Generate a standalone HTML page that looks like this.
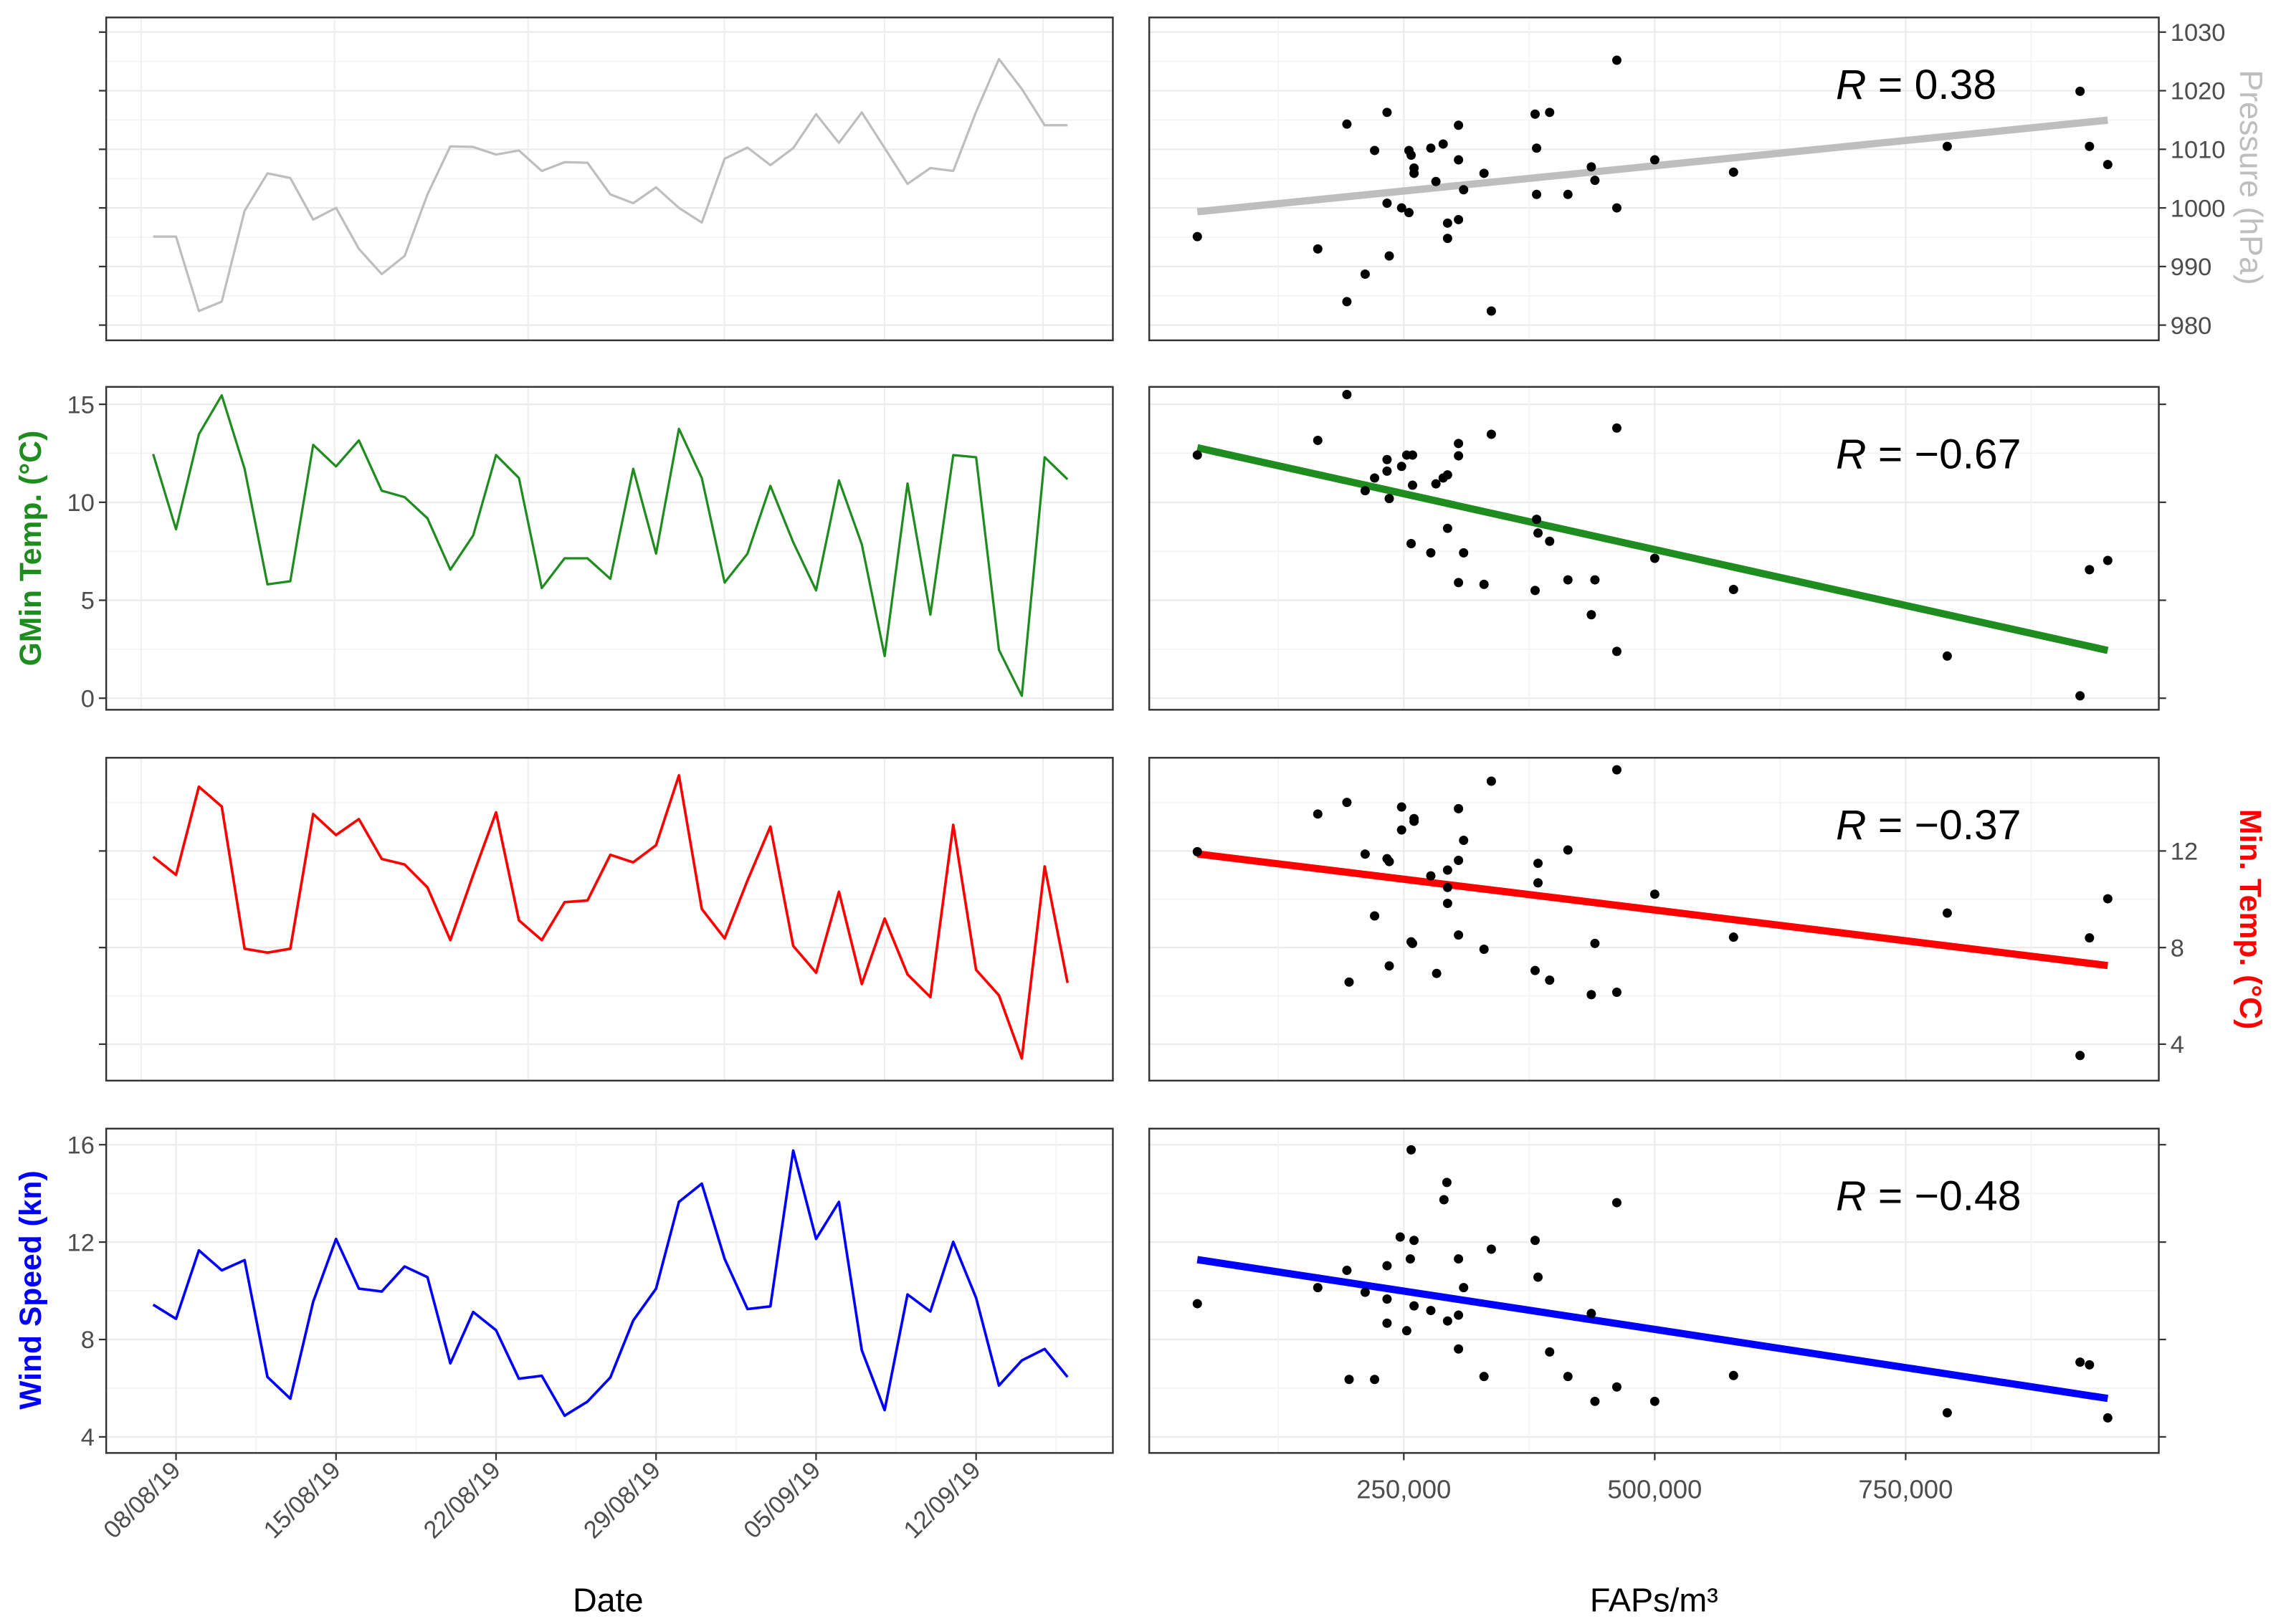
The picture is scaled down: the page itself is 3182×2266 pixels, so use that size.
<!DOCTYPE html>
<html><head><meta charset="utf-8">
<style>
html,body{margin:0;padding:0;background:#fff;}
svg{display:block;}
text{font-family:"Liberation Sans",sans-serif;}
</style></head>
<body>
<svg id="chart" xmlns="http://www.w3.org/2000/svg" width="3182" height="2266" viewBox="0 0 1568 1116.6" preserveAspectRatio="none">
<rect x="0" y="0" width="1568" height="1117" fill="#fff"/>
</svg>
<script>
// ---- time series data (daily, from 07/08/19) ----
const startDay = 7; // August 7
const pressureSeries = [995.1,995.1,982.4,984.0,999.5,1005.9,1005.1,998.0,1000.0,993.0,988.7,991.8,1002.3,1010.5,1010.4,1009.1,1009.8,1006.3,1007.8,1007.7,1002.3,1000.8,1003.5,1000.0,997.5,1008.4,1010.3,1007.3,1010.2,1016.0,1011.1,1016.3,1010.2,1004.1,1006.8,1006.3,1016.4,1025.4,1020.3,1014.1,1014.1];
const gminSeries = [12.46,8.62,13.47,15.46,11.71,5.81,5.97,12.93,11.83,13.16,10.59,10.26,9.18,6.56,8.31,12.41,11.24,5.62,7.14,7.14,6.09,11.71,7.38,13.75,11.24,5.90,7.38,10.84,7.96,5.50,11.12,7.85,2.15,10.96,4.26,12.41,12.30,2.46,0.12,12.30,11.17];
const mintempSeries = [11.76,11.01,14.66,13.84,7.95,7.79,7.95,13.53,12.66,13.32,11.67,11.44,10.49,8.31,11.01,13.60,9.13,8.31,9.88,9.95,11.84,11.53,12.24,15.13,9.60,8.38,10.78,13.01,8.07,6.96,10.31,6.49,9.20,6.89,5.95,13.08,7.08,6.02,3.41,11.36,6.54];
const windSeries = [9.43,8.85,11.66,10.84,11.26,6.46,5.57,9.55,12.13,10.09,9.97,11.00,10.56,7.02,9.13,8.38,6.39,6.51,4.87,5.45,6.44,8.78,10.09,13.65,14.40,11.31,9.25,9.36,15.76,12.13,13.65,7.56,5.10,9.85,9.15,12.01,9.71,6.11,7.14,7.61,6.46];
const dateTickDays = [1,8,15,22,29,36];
const dateTickLabels = ["08/08/19","15/08/19","22/08/19","29/08/19","05/09/19","12/09/19"];

// ---- scatter data (FAPs/m3 vs variable) ----
const pressFaps = [44300,164300,193300,193300,211500,220900,233300,233300,235500,247800,255100,255100,257300,260200,260200,276900,282000,289200,293600,293600,304500,304500,304500,309600,329900,337200,380800,382300,382300,395300,413500,436800,440400,462200,462200,500000,578500,791400,923700,933100,951300];
const pressVals = [995.1,993.0,1014.3,984.0,988.7,1009.8,1016.3,1000.8,991.8,1000.0,999.2,1009.8,1009.0,1006.8,1005.9,1010.2,1004.5,1010.9,997.4,994.8,1014.1,1008.2,998.0,1003.1,1005.9,982.4,1016.0,1010.2,1002.3,1016.3,1002.3,1007.0,1004.7,1025.2,1000.0,1008.2,1006.1,1010.5,1019.9,1010.5,1007.4];
const gminFaps = [44300,164300,193300,211500,220900,233300,233300,235500,247800,252900,258700,258700,257300,276900,282000,289200,293600,293600,304500,304500,304500,309600,329900,337200,380800,382300,383700,395300,413500,436800,440400,462200,462200,500000,578500,791400,923700,933100,951300];
const gminVals = [12.41,13.16,15.50,10.59,11.24,12.18,11.59,10.19,11.83,12.41,12.41,10.87,7.89,7.42,10.94,11.24,11.40,8.67,13.00,12.37,5.90,7.42,5.81,13.47,5.50,9.13,8.43,8.01,6.04,4.26,6.04,13.79,2.39,7.14,5.55,2.15,0.12,6.56,7.03];
const mintFaps = [44300,164300,193300,195500,211500,220900,233300,235500,235500,247800,247800,257300,258700,260200,260200,276900,282700,293600,293600,293600,304500,304500,304500,309600,329900,337200,380800,383700,383700,395300,413500,436800,440400,462200,462200,500000,578500,791400,923700,933100,951300];
const mintVals = [11.97,13.53,14.01,6.57,11.87,9.31,11.68,7.24,11.56,13.82,12.87,8.24,8.17,13.34,13.23,10.97,6.93,11.21,10.49,9.83,13.75,11.61,8.52,12.44,7.93,14.89,7.05,11.49,10.68,6.65,12.04,6.05,8.17,15.36,6.15,10.21,8.43,9.43,3.53,8.40,10.02];
const windFaps = [44300,164300,193300,195500,211500,220900,233300,233300,233300,246400,252900,256500,257300,260200,260200,276900,290000,292900,293600,304500,304500,304500,309600,329900,337200,380800,383700,395300,413500,436800,440400,462200,462200,500000,578500,791400,923700,933100,951300];
const windVals = [9.47,10.13,10.84,6.36,9.94,6.36,11.03,9.66,8.67,12.21,8.36,11.31,15.79,12.07,9.38,9.19,13.74,14.45,8.76,11.31,9.00,7.61,10.13,6.48,11.71,12.07,10.56,7.49,6.48,9.07,5.46,13.62,6.05,5.46,6.52,4.99,7.07,6.96,4.78];
const rLabels = ["0.38","\u22120.67","\u22120.37","\u22120.48"];
const fapTicks = [250000,500000,750000];
const fapTickLabels = ["250,000","500,000","750,000"];

const NS = "http://www.w3.org/2000/svg";
const svg = document.getElementById("chart");
function mk(tag, attrs, parent){ const e=document.createElementNS(NS,tag); for(const k in attrs) e.setAttribute(k,attrs[k]); (parent||svg).appendChild(e); return e; }

const LX0=73, LX1=765, RX0=790, RX1=1484;
const xDate = d => 121 + (d-1)*15.714;
const xFap = f => 965 + (f-250000)*172.5/250000;

const panels = [
 {key:"pressure", y0:12,y1:234, top:1032.5, bot:977.4, major:[980,990,1000,1010,1020,1030], minorStep:10, series:pressureSeries, faps:pressFaps, vals:pressVals, color:"#bebebe", lw:1.6, fit:"#bebebe", leftLabels:false, rightLabels:true},
 {key:"gmin", y0:266,y1:488, top:15.89, bot:-0.59, major:[0,5,10,15], minorStep:5, series:gminSeries, faps:gminFaps, vals:gminVals, color:"#1e8c1e", lw:1.6, fit:"#1e8c1e", leftLabels:true, rightLabels:false},
 {key:"min-temp", y0:521,y1:743, top:15.86, bot:2.49, major:[4,8,12], minorStep:4, series:mintempSeries, faps:mintFaps, vals:mintVals, color:"#ff0000", lw:1.8, fit:"#ff0000", leftLabels:false, rightLabels:true},
 {key:"wind", y0:776,y1:999, top:16.66, bot:3.34, major:[4,8,12,16], minorStep:4, series:windSeries, faps:windFaps, vals:windVals, color:"#0000ff", lw:1.8, fit:"#0000ff", leftLabels:true, rightLabels:false}
];

panels.forEach((p,pi)=>{
  const yv = v => p.y0 + (p.top - v)/(p.top - p.bot)*(p.y1-p.y0);
  // ---------- left panel ----------
  const gL = mk("g",{});
  
  
  mk("rect",{x:LX0,y:p.y0,width:LX1-LX0,height:p.y1-p.y0,fill:"#fff"},gL);
  // horizontal grid
  p.major.forEach(v=>{
    mk("line",{x1:LX0,x2:LX1,y1:yv(v),y2:yv(v),stroke:"#ebebeb","stroke-width":1.1},gL);
    const m=v+p.minorStep/2; if(m<p.top) mk("line",{x1:LX0,x2:LX1,y1:yv(m),y2:yv(m),stroke:"#f3f3f3","stroke-width":0.8},gL);
    const m2=v-p.minorStep/2; if(m2>p.bot && v===p.major[0]) mk("line",{x1:LX0,x2:LX1,y1:yv(m2),y2:yv(m2),stroke:"#f3f3f3","stroke-width":0.8},gL);
  });
  // vertical grid
  if(pi===3){
    dateTickDays.forEach(d=>{
      mk("line",{x1:xDate(d),x2:xDate(d),y1:p.y0,y2:p.y1,stroke:"#ebebeb","stroke-width":1.1},gL);
      mk("line",{x1:xDate(d+3.5),x2:xDate(d+3.5),y1:p.y0,y2:p.y1,stroke:"#f3f3f3","stroke-width":0.8},gL);
    });
  } else {
    [97,230,363,498,608,717].forEach(x=>mk("line",{x1:x,x2:x,y1:p.y0,y2:p.y1,stroke:"#eeeeee","stroke-width":1},gL));
  }
  const pts = p.series.map((v,i)=>xDate(i)+","+yv(v)).join(" ");
  const line = mk("polyline",{points:pts,fill:"none",stroke:p.color,"stroke-width":p.lw,"stroke-linejoin":"round"},gL);
  
  
  mk("rect",{x:LX0,y:p.y0,width:LX1-LX0,height:p.y1-p.y0,fill:"none",stroke:"#333","stroke-width":1.2},gL);
  p.major.forEach(v=>{
    mk("line",{x1:LX0-5,x2:LX0,y1:yv(v),y2:yv(v),stroke:"#333","stroke-width":1.1},gL);
    if(p.leftLabels){
      const t=mk("text",{x:LX0-8,y:yv(v)+6,"text-anchor":"end","font-size":17,fill:"#4d4d4d"},gL);
      t.textContent=v;
      
      
    }
  });
  // ---------- right panel ----------
  const gR = mk("g",{});
  
  
  mk("rect",{x:RX0,y:p.y0,width:RX1-RX0,height:p.y1-p.y0,fill:"#fff"},gR);
  p.major.forEach(v=>{
    mk("line",{x1:RX0,x2:RX1,y1:yv(v),y2:yv(v),stroke:"#ebebeb","stroke-width":1.1},gR);
    const m=v+p.minorStep/2; if(m<p.top) mk("line",{x1:RX0,x2:RX1,y1:yv(m),y2:yv(m),stroke:"#f3f3f3","stroke-width":0.8},gR);
    const m2=v-p.minorStep/2; if(m2>p.bot && v===p.major[0]) mk("line",{x1:RX0,x2:RX1,y1:yv(m2),y2:yv(m2),stroke:"#f3f3f3","stroke-width":0.8},gR);
  });
  [125000,250000,375000,500000,625000,750000,875000].forEach((f,i)=>{
    mk("line",{x1:xFap(f),x2:xFap(f),y1:p.y0,y2:p.y1,stroke:i%2?"#ebebeb":"#f3f3f3","stroke-width":i%2?1.1:0.8},gR);
  });
  // regression fit computed from data
  const n=p.faps.length; let sx=0,sy=0,sxx=0,sxy=0;
  for(let i=0;i<n;i++){sx+=p.faps[i];sy+=p.vals[i];sxx+=p.faps[i]*p.faps[i];sxy+=p.faps[i]*p.vals[i];}
  const b=(n*sxy-sx*sy)/(n*sxx-sx*sx), a=(sy-b*sx)/n;
  const fmin=Math.min(...p.faps), fmax=Math.max(...p.faps);
  const fit=mk("line",{x1:xFap(fmin),y1:yv(a+b*fmin),x2:xFap(fmax),y2:yv(a+b*fmax),stroke:p.fit,"stroke-width":5},gR);
  
  
  p.faps.forEach((f,i)=>{
    const c=mk("circle",{cx:xFap(f),cy:yv(p.vals[i]),r:3.2,fill:"#000"},gR);
    
    
  });
  mk("rect",{x:RX0,y:p.y0,width:RX1-RX0,height:p.y1-p.y0,fill:"none",stroke:"#333","stroke-width":1.2},gR);
  p.major.forEach(v=>{
    mk("line",{x1:RX1,x2:RX1+5,y1:yv(v),y2:yv(v),stroke:"#333","stroke-width":1.1},gR);
    if(p.rightLabels){
      const t=mk("text",{x:RX1+8,y:yv(v)+6,"text-anchor":"start","font-size":17,fill:"#4d4d4d"},gR);
      t.textContent=v;
      
      
    }
  });
  const rt=mk("text",{x:1262,y:p.y0+56,"font-size":29,fill:"#000"},gR);
  rt.innerHTML='<tspan font-style="italic">R</tspan> = '+rLabels[pi];
  
  
});

// date axis
dateTickDays.forEach((d,i)=>{
  mk("line",{x1:xDate(d),x2:xDate(d),y1:999,y2:1004,stroke:"#333","stroke-width":1.1});
  const t=mk("text",{x:xDate(d)+4,y:1012,"text-anchor":"end","font-size":17,fill:"#4d4d4d",transform:"rotate(-45 "+(xDate(d)+4)+" 1012)"});
  t.textContent=dateTickLabels[i];
  
  
});
// FAP axis
fapTicks.forEach((f,i)=>{
  mk("line",{x1:xFap(f),x2:xFap(f),y1:999,y2:1004,stroke:"#333","stroke-width":1.1});
  const t=mk("text",{x:xFap(f),y:1030,"text-anchor":"middle","font-size":18,fill:"#4d4d4d"});
  t.textContent=fapTickLabels[i];
  
  
});
</script>
<svg style="position:absolute;left:0;top:0;pointer-events:none" width="3182" height="2266" viewBox="0 0 1568 1116.6" preserveAspectRatio="none" xmlns="http://www.w3.org/2000/svg">
<text x="418" y="1108" text-anchor="middle" font-size="23" fill="#000" font-family="Liberation Sans, sans-serif">Date</text>
<text x="1137" y="1108" text-anchor="middle" font-size="23" fill="#000" font-family="Liberation Sans, sans-serif">FAPs/m³</text>
<text transform="translate(28 377) rotate(-90)" text-anchor="middle" font-size="21" font-weight="bold" fill="#1e8c1e" font-family="Liberation Sans, sans-serif">GMin Temp. (°C)</text>
<text transform="translate(28 887) rotate(-90)" text-anchor="middle" font-size="21" font-weight="bold" fill="#0000ff" font-family="Liberation Sans, sans-serif">Wind Speed (kn)</text>
<text transform="translate(1540 122) rotate(90)" text-anchor="middle" font-size="22" fill="#bebebe" font-family="Liberation Sans, sans-serif">Pressure (hPa)</text>
<text transform="translate(1540 632) rotate(90)" text-anchor="middle" font-size="21" font-weight="bold" fill="#ff0000" font-family="Liberation Sans, sans-serif">Min. Temp. (°C)</text>
</svg>
</body></html>
